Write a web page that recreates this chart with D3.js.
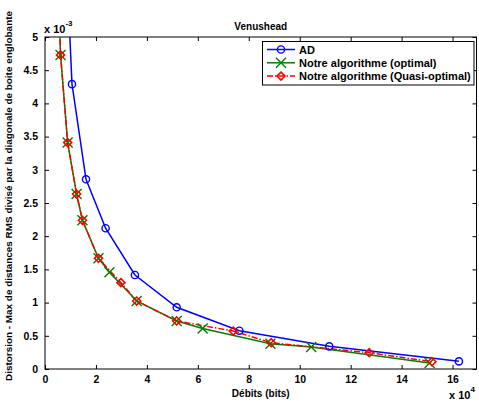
<!DOCTYPE html>
<html><head><meta charset="utf-8">
<script src="https://cdn.jsdelivr.net/npm/d3@7"></script>
<style>body{margin:0;background:#fff}svg{display:block}text{font-family:"Liberation Sans",Arial,sans-serif;font-weight:bold}</style>
</head><body><svg id="c" width="479" height="401"></svg>
<script>
// x in units of 1e4 bits, y in units of 1e-3
const adX = [0.62, 1.06, 1.61, 2.38, 3.53, 5.17, 7.63, 11.16, 16.25];
const adY = [8.0, 4.29, 2.857, 2.12, 1.416, 0.929, 0.577, 0.341, 0.115];
const optX = [0.50, 0.61, 0.89, 1.24, 1.47, 2.10, 2.53, 3.60, 5.17, 6.19, 8.85, 10.45, 15.10];
const optY = [6.0, 4.73, 3.41, 2.635, 2.24, 1.667, 1.456, 1.024, 0.723, 0.61, 0.38, 0.33, 0.09];
const quasiX = [0.50, 0.61, 0.89, 1.24, 1.47, 2.10, 2.98, 3.60, 5.17, 7.39, 8.88, 12.73, 15.19];
const quasiY = [6.0, 4.73, 3.41, 2.635, 2.24, 1.667, 1.30, 1.024, 0.723, 0.572, 0.396, 0.245, 0.11];
const xTicks = [0, 2, 4, 6, 8, 10, 12, 14, 16];
const yTicks = [0, 0.5, 1, 1.5, 2, 2.5, 3, 3.5, 4, 4.5, 5];
const seriesNames = ["AD", "Notre algorithme (optimal)", "Notre algorithme (Quasi-optimal)"];
const seriesColors = ["#0000ff", "#008000", "#ff0000"];

const L = 45, R = 476.5, T = 37, B = 369;
const svg = d3.select("#c");
const x = d3.scaleLinear().domain([0, 16.94]).range([L, R]);
const y = d3.scaleLinear().domain([0, 5]).range([B, T]);

svg.append("defs").append("clipPath").attr("id", "clip")
  .append("rect").attr("x", L).attr("y", T).attr("width", R - L).attr("height", B - T);

const fmtY = d => d === 0 ? "0" : String(d);
svg.append("g").attr("transform", `translate(0,${B})`)
  .call(d3.axisBottom(x).tickValues(xTicks).tickSize(-4).tickPadding(7).tickFormat(d3.format("d")))
  .call(g => { g.select(".domain").remove(); g.selectAll("text").attr("font-size", 10.5).attr("fill", "#000"); g.selectAll("line").attr("stroke", "#000"); });
svg.append("g").attr("transform", `translate(0,${T})`)
  .call(d3.axisTop(x).tickValues(xTicks).tickSize(-4).tickFormat(""))
  .call(g => { g.select(".domain").remove(); g.selectAll("line").attr("stroke", "#000"); });
svg.append("g").attr("transform", `translate(${L},0)`)
  .call(d3.axisLeft(y).tickValues(yTicks).tickSize(-4).tickPadding(7).tickFormat(fmtY))
  .call(g => { g.select(".domain").remove(); g.selectAll("text").attr("font-size", 10.5).attr("fill", "#000"); g.selectAll("line").attr("stroke", "#000"); });
svg.append("g").attr("transform", `translate(${R},0)`)
  .call(d3.axisRight(y).tickValues(yTicks).tickSize(-4).tickFormat(""))
  .call(g => { g.select(".domain").remove(); g.selectAll("line").attr("stroke", "#000"); });
svg.append("rect").attr("x", L).attr("y", T).attr("width", R - L).attr("height", B - T)
  .attr("fill", "none").attr("stroke", "#000").attr("stroke-width", 1);

const plot = svg.append("g").attr("clip-path", "url(#clip)");
const line = d3.line().x(d => x(d[0])).y(d => y(d[1]));
const series = [d3.zip(adX, adY), d3.zip(optX, optY), d3.zip(quasiX, quasiY)];
const dash = [null, null, "6,2,1.5,2"];
series.forEach((s, i) => {
  plot.append("path").datum(s).attr("d", line).attr("fill", "none")
    .attr("stroke", seriesColors[i]).attr("stroke-width", 1.5)
    .attr("stroke-dasharray", dash[i]);
});
function marker(g, i, cx, cy) {
  if (i === 0) {
    g.append("circle").attr("cx", cx).attr("cy", cy).attr("r", 3.6)
      .attr("fill", "none").attr("stroke", seriesColors[0]).attr("stroke-width", 1.4);
  } else if (i === 1) {
    const s = 5;
    g.append("path").attr("d", `M${cx - s},${cy - s}L${cx + s},${cy + s}M${cx - s},${cy + s}L${cx + s},${cy - s}`)
      .attr("stroke", seriesColors[1]).attr("stroke-width", 1.4).attr("fill", "none");
  } else {
    const s = 4;
    g.append("path").attr("d", `M${cx},${cy - s}L${cx + s},${cy}L${cx},${cy + s}L${cx - s},${cy}Z`)
      .attr("stroke", seriesColors[2]).attr("stroke-width", 1.6).attr("fill", "none");
  }
}
series.forEach((s, i) => {
  s.forEach(d => { if (d[1] <= 5) marker(plot, i, x(d[0]), y(d[1])); });
});

svg.append("text").attr("x", (L + R) / 2).attr("y", 30).attr("text-anchor", "middle")
  .attr("font-size", 10).text("Venushead");
svg.append("text").attr("x", (L + R) / 2).attr("y", 397).attr("text-anchor", "middle")
  .attr("font-size", 10).text("Débits (bits)");
svg.append("text").attr("transform", `translate(12,196) rotate(-90)`)
  .attr("text-anchor", "middle").attr("font-size", 9.5)
  .attr("textLength", 370).attr("lengthAdjust", "spacingAndGlyphs")
  .text("Distorsion - Max de distances RMS divisé par la diagonale de boite englobante");
const e1 = svg.append("text").attr("x", 44).attr("y", 33).attr("font-size", 11);
e1.append("tspan").text("x 10");
e1.append("tspan").attr("dy", -7).attr("font-size", 8).text("-3");
const e2 = svg.append("text").attr("x", 449).attr("y", 399).attr("font-size", 11);
e2.append("tspan").text("x 10");
e2.append("tspan").attr("dy", -7).attr("font-size", 8).text("4");

const lg = svg.append("g");
lg.append("rect").attr("x", 262.5).attr("y", 41.5).attr("width", 211.5).attr("height", 43.5)
  .attr("fill", "#fff").attr("stroke", "#000").attr("stroke-width", 1);
seriesNames.forEach((n, i) => {
  const yy = 49.5 + i * 13.3;
  lg.append("line").attr("x1", 267).attr("x2", 295).attr("y1", yy).attr("y2", yy)
    .attr("stroke", seriesColors[i]).attr("stroke-width", 1.5).attr("stroke-dasharray", dash[i]);
  marker(lg, i, 281, yy);
  lg.append("text").attr("x", 299).attr("y", yy + 4).attr("font-size", 11).text(n);
});
</script></body></html>
